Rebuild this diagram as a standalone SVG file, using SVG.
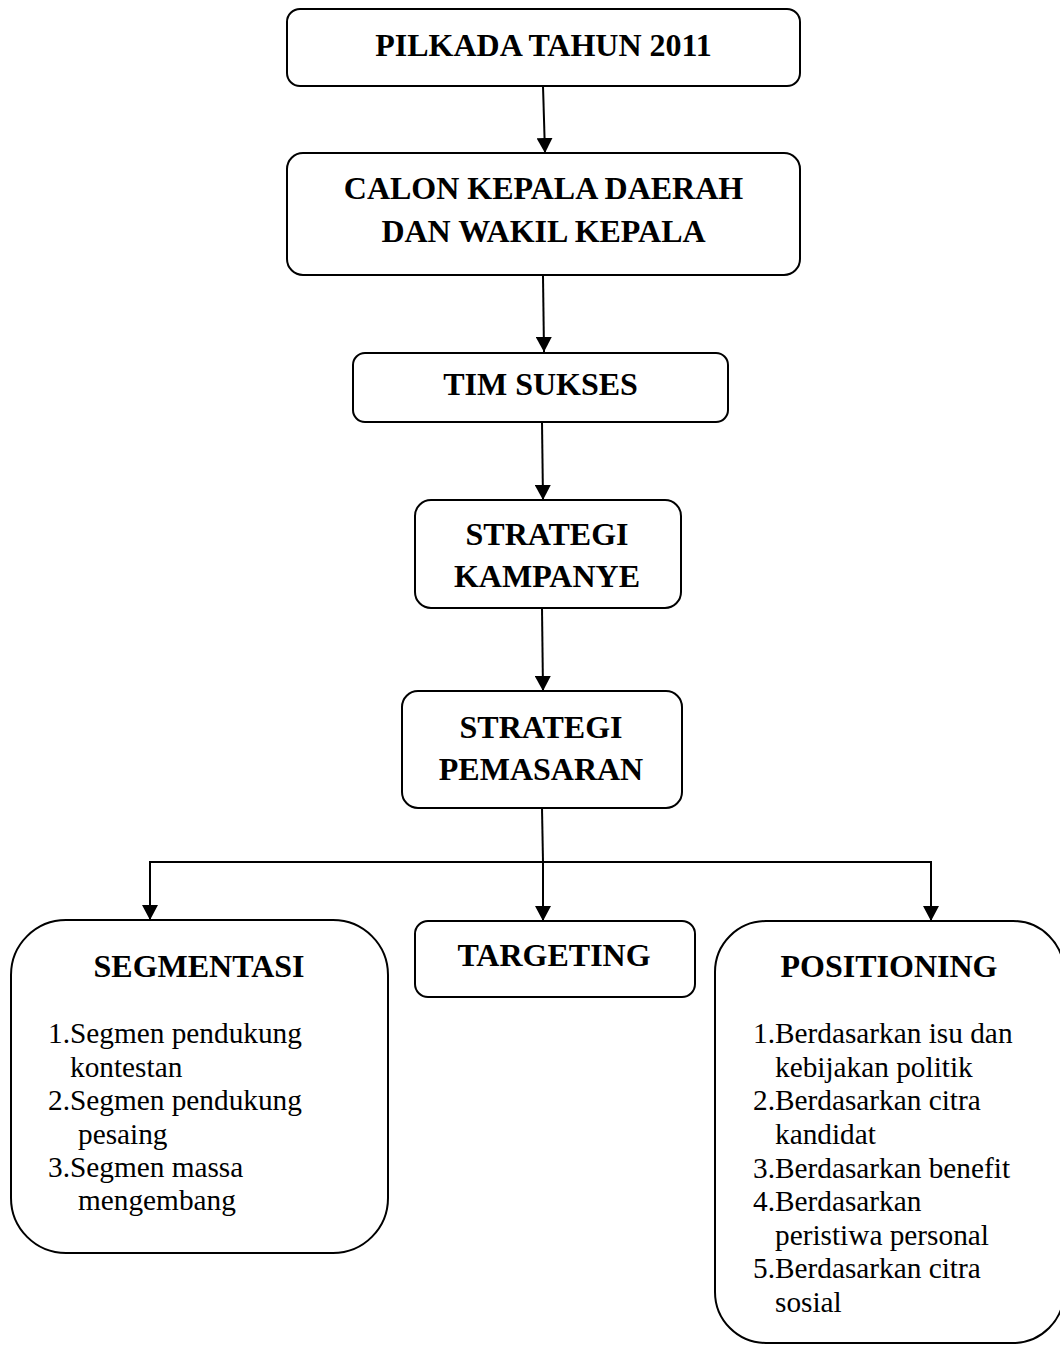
<svg xmlns="http://www.w3.org/2000/svg" width="1060" height="1345" viewBox="0 0 1060 1345">
  <style>
    .box { fill: #ffffff; stroke: #000000; stroke-width: 2; }
    .title { font-family: "Liberation Serif", "Times New Roman", serif; font-weight: bold; font-size: 32px; fill: #000000; text-anchor: middle; }
    .item { font-family: "Liberation Serif", "Times New Roman", serif; font-size: 29.3px; fill: #000000; }
    .conn { fill: none; stroke: #000000; stroke-width: 2; }
  </style>
  <defs>
    <marker id="arrow" viewBox="0 0 15 16" refX="15" refY="8" markerWidth="15" markerHeight="16" markerUnits="userSpaceOnUse" orient="auto">
      <path d="M0,0 L15,8 L0,16 z" fill="#000000"/>
    </marker>
  </defs>
  <rect x="0" y="0" width="1060" height="1345" fill="#ffffff"/>

  <g id="connectors">
    <line class="conn" x1="543" y1="86" x2="545" y2="153" marker-end="url(#arrow)"/>
    <line class="conn" x1="543" y1="276" x2="544" y2="352" marker-end="url(#arrow)"/>
    <line class="conn" x1="542" y1="422" x2="543" y2="500" marker-end="url(#arrow)"/>
    <line class="conn" x1="542" y1="608" x2="543" y2="691" marker-end="url(#arrow)"/>
    <line class="conn" x1="542" y1="808" x2="543" y2="862"/>
    <line class="conn" x1="149" y1="862" x2="932" y2="862"/>
    <line class="conn" x1="150" y1="862" x2="150" y2="920" marker-end="url(#arrow)"/>
    <line class="conn" x1="543" y1="862" x2="543" y2="921" marker-end="url(#arrow)"/>
    <line class="conn" x1="931" y1="862" x2="931" y2="921" marker-end="url(#arrow)"/>
  </g>

  <g id="pilkada">
    <rect class="box" x="287" y="9" width="513" height="77" rx="13"/>
    <text class="title" x="543.5" y="56">PILKADA TAHUN 2011</text>
  </g>

  <g id="calon">
    <rect class="box" x="287" y="153" width="513" height="122" rx="16"/>
    <text class="title" x="543.5" y="199">CALON KEPALA DAERAH</text>
    <text class="title" x="543.5" y="242">DAN WAKIL KEPALA</text>
  </g>

  <g id="tim-sukses">
    <rect class="box" x="353" y="353" width="375" height="69" rx="12"/>
    <text class="title" x="540.5" y="395">TIM SUKSES</text>
  </g>

  <g id="strategi-kampanye">
    <rect class="box" x="415" y="500" width="266" height="108" rx="16"/>
    <text class="title" x="547" y="545">STRATEGI</text>
    <text class="title" x="547" y="587">KAMPANYE</text>
  </g>

  <g id="strategi-pemasaran">
    <rect class="box" x="402" y="691" width="280" height="117" rx="16"/>
    <text class="title" x="541" y="738">STRATEGI</text>
    <text class="title" x="541" y="780">PEMASARAN</text>
  </g>

  <g id="segmentasi">
    <rect class="box" x="11" y="920" width="377" height="333" rx="55"/>
    <text class="title" x="199" y="977">SEGMENTASI</text>
    <text class="item" x="48" y="1043">1.Segmen pendukung</text>
    <text class="item" x="70" y="1077">kontestan</text>
    <text class="item" x="48" y="1110">2.Segmen pendukung</text>
    <text class="item" x="78" y="1144">pesaing</text>
    <text class="item" x="48" y="1177">3.Segmen massa</text>
    <text class="item" x="78" y="1210">mengembang</text>
  </g>

  <g id="targeting">
    <rect class="box" x="415" y="921" width="280" height="76" rx="13"/>
    <text class="title" x="554" y="966">TARGETING</text>
  </g>

  <g id="positioning">
    <rect class="box" x="715" y="921" width="349" height="422" rx="51"/>
    <text class="title" x="889" y="977">POSITIONING</text>
    <text class="item" x="753" y="1043">1.Berdasarkan isu dan</text>
    <text class="item" x="775" y="1077">kebijakan politik</text>
    <text class="item" x="753" y="1110">2.Berdasarkan citra</text>
    <text class="item" x="775" y="1144">kandidat</text>
    <text class="item" x="753" y="1178">3.Berdasarkan benefit</text>
    <text class="item" x="753" y="1211">4.Berdasarkan</text>
    <text class="item" x="775" y="1245">peristiwa personal</text>
    <text class="item" x="753" y="1278">5.Berdasarkan citra</text>
    <text class="item" x="775" y="1312">sosial</text>
  </g>
</svg>
